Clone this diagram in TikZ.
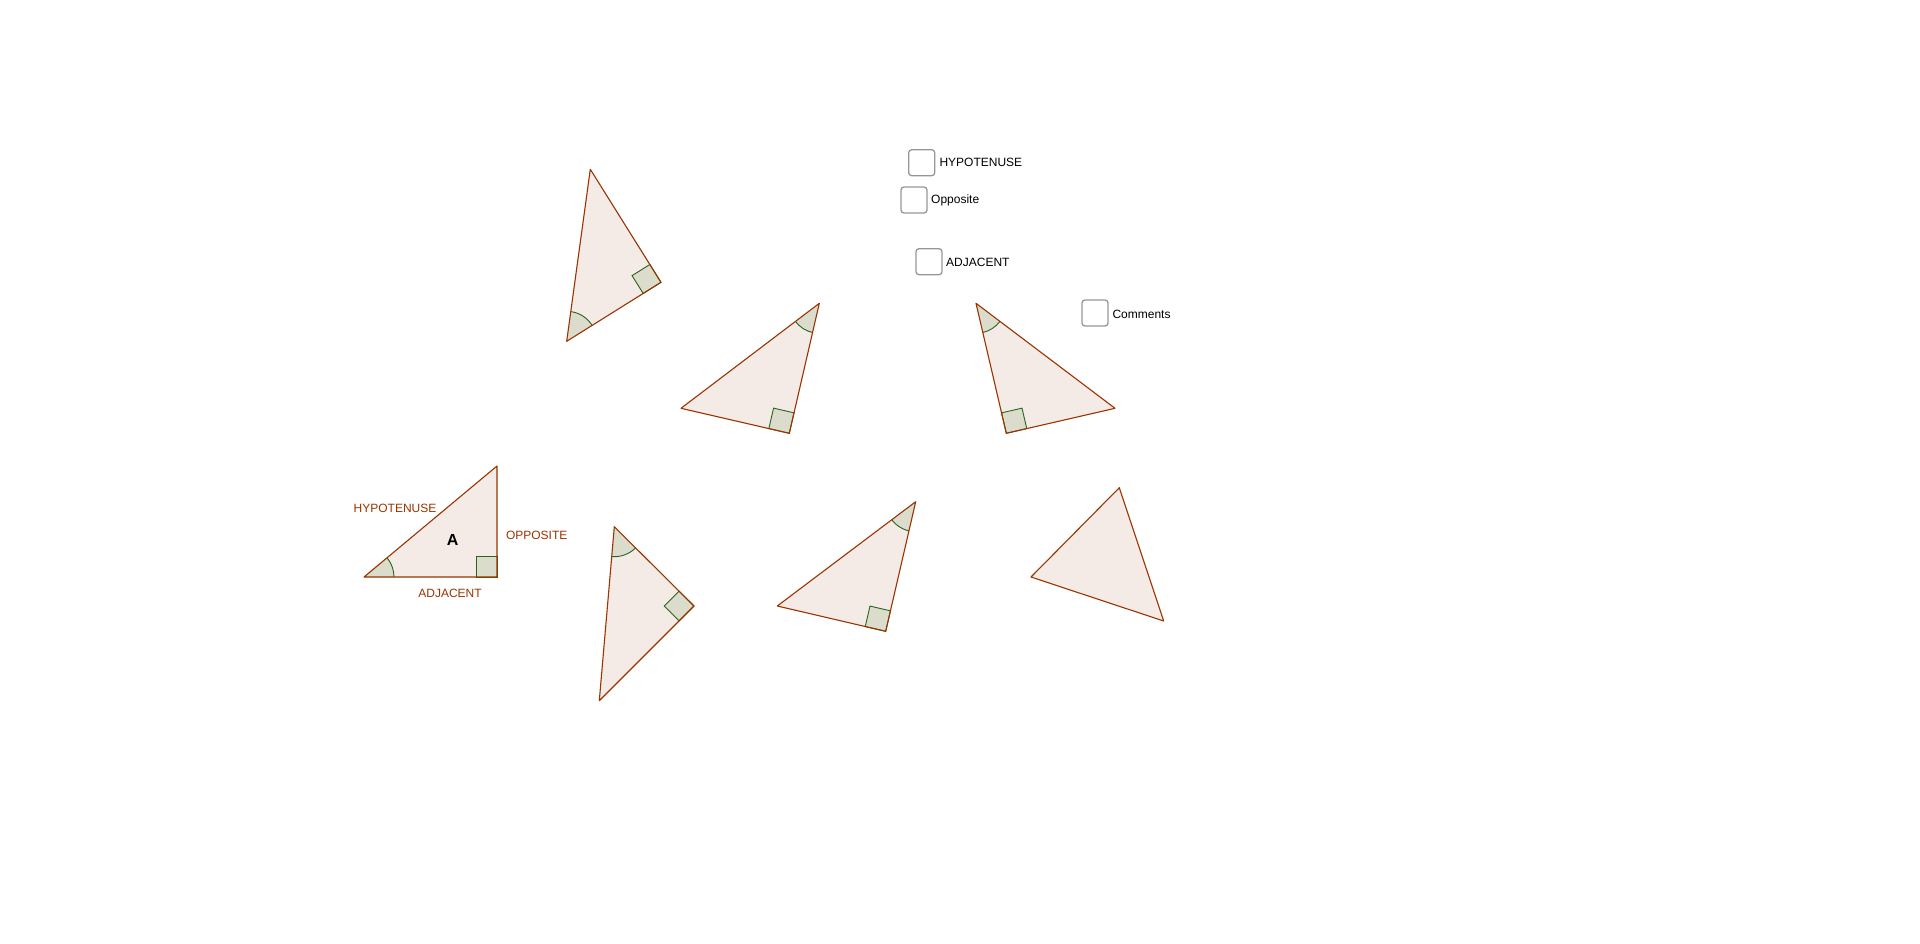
\documentclass[tikz,border=0pt]{standalone}
\usepackage{fontspec}
\setmainfont{Liberation Sans}
\usetikzlibrary{calc,angles}
\definecolor{edge}{RGB}{153,51,0}
\definecolor{tfill}{RGB}{245,235,230}
\definecolor{afill}{RGB}{220,220,204}
\definecolor{amark}{RGB}{40,100,30}
\definecolor{boxgray}{RGB}{150,150,150}
\tikzset{
 tri/.style={fill=tfill},
 triedge/.style={draw=edge, line width=1.1pt, line join=round},
 angmark/.style={draw=amark, fill=afill, line width=0.9pt, angle radius=30pt},
 rtmark/.style={draw=amark, fill=afill, line width=0.9pt},
 lbl/.style={text=edge, font=\fontsize{12}{14}\selectfont, inner sep=0pt},
 cbox/.style={draw=boxgray, line width=1.3pt, rounded corners=3pt, minimum size=26pt, inner sep=0pt},
 cbtext/.style={anchor=west, font=\fontsize{12}{14}\selectfont, inner sep=0pt, text=black},
}
\newcommand\RtMark[3]{%
  \path ($(#1)!21pt!(#2)$) coordinate (rmA) ($(#1)!21pt!(#3)$) coordinate (rmB);
  \draw[rtmark] (#1) -- (rmA) -- ($(rmA)+(rmB)-(#1)$) -- (rmB) -- cycle;}
\begin{document}
\begin{tikzpicture}[x=1pt,y=-1pt]
\useasboundingbox (0,0) rectangle (1920,943);
% coordinates
\coordinate (A1) at (364,577); \coordinate (A2) at (497,577); \coordinate (A3) at (497,466);
\coordinate (B1) at (590.3,169.3); \coordinate (B2) at (566.7,341.3); \coordinate (B3) at (661,282.3);
\coordinate (C1) at (819.3,303.3); \coordinate (C2) at (681,408.3); \coordinate (C3) at (789.3,433.3);
\coordinate (D1) at (976,303.3); \coordinate (D2) at (1115,408.3); \coordinate (D3) at (1006.3,433.3);
\coordinate (E1) at (614.3,526.7); \coordinate (E2) at (694,606); \coordinate (E3) at (599.3,700.7);
\coordinate (F1) at (915.7,501.7); \coordinate (F2) at (777.3,606); \coordinate (F3) at (885.7,631.3);
\coordinate (G1) at (1119.3,487.7); \coordinate (G2) at (1031,577); \coordinate (G3) at (1163.7,621);
% fills
\foreach \t in {A,B,C,D,E,F,G} \fill[tri] (\t1) -- (\t2) -- (\t3) -- cycle;
% angle marks
\pic[angmark] {angle = A2--A1--A3};
\pic[angmark] {angle = B3--B2--B1};
\pic[angmark] {angle = C2--C1--C3};
\pic[angmark] {angle = D3--D1--D2};
\pic[angmark] {angle = E3--E1--E2};
\pic[angmark] {angle = F2--F1--F3};
% right angle marks
\RtMark{A2}{A1}{A3}
\RtMark{B3}{B1}{B2}
\RtMark{C3}{C1}{C2}
\RtMark{D3}{D1}{D2}
\RtMark{E2}{E1}{E3}
\RtMark{F3}{F1}{F2}
% edges
\foreach \t in {A,B,C,D,E,F,G} \draw[triedge] (\t1) -- (\t2) -- (\t3) -- cycle;
% labels of triangle A
\node[lbl] (hyp) at (395,508) {HYPOTENUSE};
\node[lbl] (opp) at (536.7,535) {OPPOSITE};
\node[lbl] (adj) at (450,593.3) {ADJACENT};
\node[inner sep=0pt, font=\fontsize{16}{18}\selectfont\bfseries] (nameA) at (452.7,540) {A};
% check boxes
\node[cbox] (cbH) at (921.7,162.7) {};
\node[cbtext] (tH) at (939.3,162.7) {HYPOTENUSE};
\node[cbox] (cbO) at (914,200) {};
\node[cbtext] (tO) at (931,200) {Opposite};
\node[cbox] (cbA) at (929,261.7) {};
\node[cbtext] (tA) at (946,262) {ADJACENT};
\node[cbox] (cbC) at (1095,313) {};
\node[cbtext] (tC) at (1112.3,314) {Comments};
\end{tikzpicture}
\end{document}
